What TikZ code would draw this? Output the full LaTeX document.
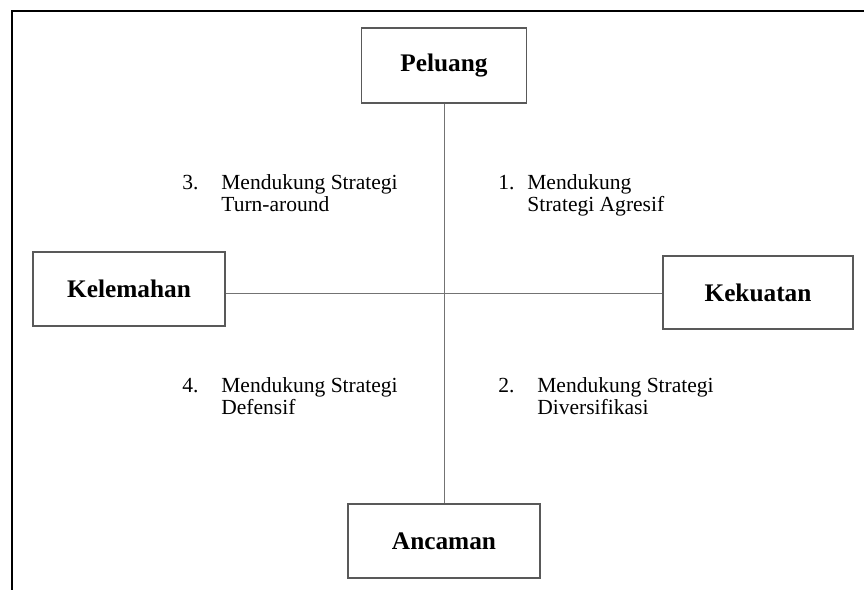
\documentclass[tikz,border=0pt]{standalone}
\usepackage{fontspec}
\setmainfont{Liberation Serif}
\begin{document}
\begin{tikzpicture}[
	kotak/.style={draw=black!65,line width=0.6pt,inner sep=0pt,minimum height=1.48cm,font=\fontsize{14.4}{16}\selectfont\bfseries},
	garis/.style={draw=black!55,line width=0.5pt},
	ket/.style={anchor=base west,inner sep=0pt,font=\fontsize{12.25}{13}\selectfont}
	]
	\useasboundingbox (0,0) rectangle (17.28,-11.8);
	\draw[line width=0.7pt] (0.24,-11.8) -- (0.24,-0.22) -- (17.28,-0.22);
	% kotak SWOT
	\node[kotak,minimum width=3.3cm,minimum height=1.5cm] (peluang) at (8.88,-1.31) {Peluang};
	\node[kotak,minimum width=3.84cm] (ancaman) at (8.88,-10.82) {Ancaman};
	\node[kotak,minimum width=3.84cm] (kelemahan) at (2.58,-5.78) {Kelemahan};
	\node[kotak,minimum width=3.8cm,minimum height=1.46cm] (kekuatan) at (15.16,-5.85) {Kekuatan};
	\coordinate (tengah) at (8.88,-5.86);
	\draw[garis] (peluang.south) -- (ancaman.north);
	\draw[garis] (kelemahan.east |- tengah) -- (kekuatan.west |- tengah);
	% strategi
	\node[ket] (strategi3) at (3.64,-3.78) {\begin{tabular}[t]{@{}p{0.78cm}@{}l@{}}3. & Mendukung Strategi\\ & Turn-around\end{tabular}};
	\node[ket] (strategi1) at (9.96,-3.78) {\begin{tabular}[t]{@{}p{0.58cm}@{}l@{}}1. & Mendukung\\ & Strategi Agresif\end{tabular}};
	\node[ket] (strategi4) at (3.64,-7.84) {\begin{tabular}[t]{@{}p{0.78cm}@{}l@{}}4. & Mendukung Strategi\\ & Defensif\end{tabular}};
	\node[ket] (strategi2) at (9.96,-7.84) {\begin{tabular}[t]{@{}p{0.78cm}@{}l@{}}2. & Mendukung Strategi\\ & Diversifikasi\end{tabular}};
\end{tikzpicture}
\end{document}
